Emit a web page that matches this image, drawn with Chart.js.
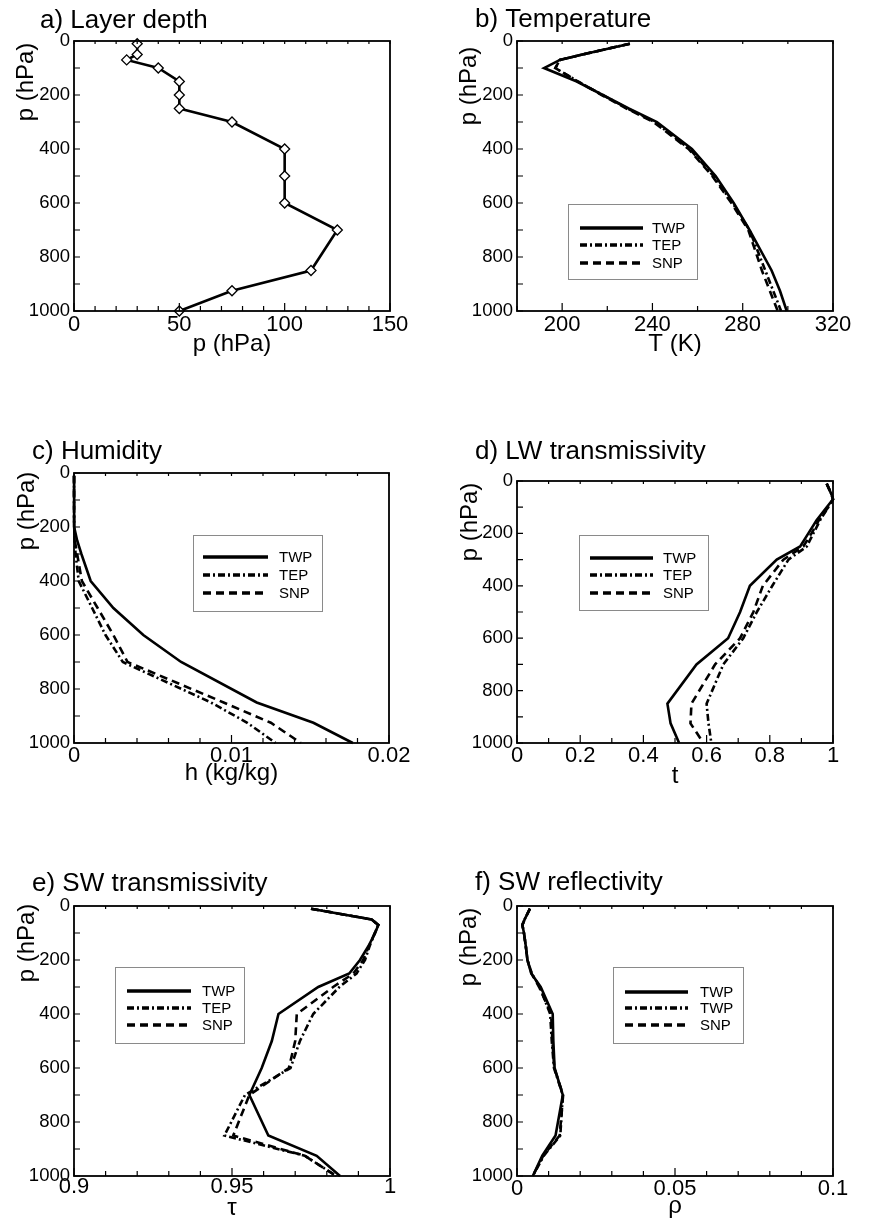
<!DOCTYPE html>
<html>
<head>
<meta charset="utf-8">
<script src="https://cdn.jsdelivr.net/npm/chart.js@4.4.1/dist/chart.umd.min.js"></script>
<style>
html,body{margin:0;padding:0;background:#fff;}
body{width:876px;height:1226px;position:relative;overflow:hidden;}
canvas{position:absolute;left:0;top:0;}
</style>
</head>
<body>
<canvas id="pa" width="876" height="1226"></canvas>
<canvas id="pb" width="876" height="1226"></canvas>
<canvas id="pc" width="876" height="1226"></canvas>
<canvas id="pd" width="876" height="1226"></canvas>
<canvas id="pe" width="876" height="1226"></canvas>
<canvas id="pf" width="876" height="1226"></canvas>
<script>
// ---------------- data ----------------
const levels = [10, 50, 70, 100, 150, 200, 250, 300, 400, 500, 600, 700, 850, 925, 1000];

const layerDepth = [30, 30, 25, 40, 50, 50, 50, 75, 100, 100, 100, 125, 112.5, 75, 50];

const tempTWP = [230, 209, 199, 192, 206.5, 218, 229.5, 242, 257.5, 268, 276, 283, 292.8, 296.5, 299.5];
const tempTEP = [230, 209, 199, 197, 207, 218, 229, 241, 256.5, 267, 275.5, 283, 290, 293.5, 297];
const tempSNP = [230, 209, 199, 197, 207, 217.5, 228.5, 240.5, 256, 266.5, 275, 282.5, 288.5, 292, 295.5];

const humTWP = [0.000003, 0.000003, 0.000003, 0.000004, 0.000008, 0.00003, 0.0002, 0.00047, 0.00106, 0.0025, 0.0044, 0.0068, 0.0116, 0.0152, 0.0177];
const humTEP = [0.000002, 0.000002, 0.000002, 0.000003, 0.000005, 0.00001, 0.00004, 0.0001, 0.0003, 0.00115, 0.002, 0.0031, 0.0087, 0.011, 0.0128];
const humSNP = [0.000002, 0.000002, 0.000002, 0.000003, 0.000005, 0.00001, 0.00005, 0.0002, 0.0005, 0.0015, 0.0025, 0.0034, 0.0095, 0.0125, 0.0144];

const lwTWP = [0.98, 0.995, 1.0, 0.98, 0.948, 0.922, 0.896, 0.822, 0.737, 0.706, 0.668, 0.568, 0.476, 0.486, 0.513];
const lwTEP = [0.98, 0.995, 1.0, 0.985, 0.959, 0.938, 0.917, 0.859, 0.808, 0.759, 0.716, 0.653, 0.60, 0.606, 0.615];
const lwSNP = [0.98, 0.995, 1.0, 0.985, 0.955, 0.932, 0.906, 0.843, 0.778, 0.748, 0.706, 0.627, 0.552, 0.549, 0.59];

const swtTWP = [0.975, 0.9942, 0.9963, 0.9953, 0.9931, 0.9905, 0.9871, 0.9773, 0.9647, 0.9626, 0.9594, 0.9555, 0.9615, 0.9768, 0.9842];
const swtTEP = [0.975, 0.9942, 0.9963, 0.9952, 0.9935, 0.9921, 0.9894, 0.984, 0.9757, 0.9715, 0.9685, 0.9541, 0.9476, 0.973, 0.983];
const swtSNP = [0.975, 0.9942, 0.9963, 0.9952, 0.9933, 0.9915, 0.9884, 0.982, 0.9705, 0.97, 0.968, 0.9555, 0.9504, 0.973, 0.983];

const swrTWP = [0.0041, 0.0024, 0.0017, 0.0022, 0.0028, 0.0033, 0.0045, 0.0075, 0.0113, 0.0115, 0.0119, 0.0145, 0.0122, 0.0080, 0.0050];
const swrTEP = [0.0041, 0.0024, 0.0017, 0.0022, 0.0028, 0.0033, 0.0047, 0.0072, 0.0105, 0.0110, 0.0117, 0.0145, 0.0137, 0.0085, 0.0050];
const swrSNP = [0.0041, 0.0024, 0.0017, 0.0022, 0.0028, 0.0033, 0.0046, 0.0070, 0.0108, 0.0112, 0.0118, 0.0146, 0.0135, 0.0083, 0.0050];

const seriesNames = ['TWP', 'TEP', 'SNP'];
const seriesNamesF = ['TWP', 'TWP', 'SNP'];

// tick labels
const yTickLabels = ['0', '200', '400', '600', '800', '1000'];
const yMinorStep = 100;
const xLabelsA = ['0', '50', '100', '150'];
const xLabelsB = ['200', '240', '280', '320'];
const xLabelsC = ['0', '0.01', '0.02'];
const xLabelsD = ['0', '0.2', '0.4', '0.6', '0.8', '1'];
const xLabelsE = ['0.9', '0.95', '1'];
const xLabelsF = ['0', '0.05', '0.1'];

// ---------------- drawing ----------------
const FONT = '"Liberation Sans", Arial, Helvetica, sans-serif';
Chart.defaults.font.family = FONT;
Chart.defaults.color = '#000';

const styles = [
  {borderDash: []},
  {borderDash: [7, 3, 2, 3]},
  {borderDash: [8, 5]}
];

function pts(vals) { return vals.map((v, i) => ({x: v, y: levels[i]})); }

function stepValues(min, max, step) {
  const n = Math.round((max - min) / step);
  const out = [];
  for (let i = 0; i <= n; i++) out.push(+(min + i * step).toFixed(8));
  return out;
}

function labelLookup(labels) {
  const vals = labels.map(Number);
  return (v) => {
    const i = vals.findIndex(m => Math.abs(m - v) < 1e-9);
    return i >= 0 ? labels[i] : '';
  };
}

const decor = {
  id: 'decor',
  afterDraw(chart, args, o) {
    const {ctx, chartArea: a} = chart;
    const xs = chart.scales.x, ys = chart.scales.y;
    ctx.save();
    ctx.strokeStyle = '#000';
    ctx.lineWidth = 1.2;
    ctx.setLineDash([]);
    ctx.beginPath();
    xs.ticks.forEach(t => {
      const px = xs.getPixelForValue(t.value);
      const major = t.label !== '';
      ctx.moveTo(px, a.bottom); ctx.lineTo(px, a.bottom - (major ? 8 : 5));
      ctx.moveTo(px, a.top); ctx.lineTo(px, a.top + 3);
    });
    ys.ticks.forEach(t => {
      const py = ys.getPixelForValue(t.value);
      ctx.moveTo(a.left, py); ctx.lineTo(a.left + 6, py);
    });
    ctx.stroke();
    ctx.lineWidth = 1.8;
    ctx.strokeRect(a.left, a.top, a.right - a.left, a.bottom - a.top);

    ctx.fillStyle = '#000';
    ctx.font = '26px ' + FONT;
    ctx.textAlign = 'left';
    ctx.textBaseline = 'alphabetic';
    ctx.fillText(o.title, o.titleX, o.titleY);

    ctx.save();
    ctx.translate(o.yTitleX, o.yTitleY);
    ctx.rotate(-Math.PI / 2);
    ctx.font = '24px ' + FONT;
    ctx.textAlign = 'center';
    ctx.textBaseline = 'middle';
    ctx.fillText(o.yTitle, 0, 0);
    ctx.restore();

    if (o.legend) {
      const L = o.legend;
      ctx.strokeStyle = '#8a8a8a';
      ctx.lineWidth = 1;
      ctx.strokeRect(L.box[0] + 0.5, L.box[1] + 0.5, L.box[2] - L.box[0], L.box[3] - L.box[1]);
      chart.data.datasets.forEach((ds, i) => {
        const y = L.rows[i];
        ctx.strokeStyle = '#000';
        ctx.lineWidth = 3.5;
        ctx.setLineDash(ds.borderDash || []);
        ctx.beginPath(); ctx.moveTo(L.line[0], y); ctx.lineTo(L.line[1], y); ctx.stroke();
        ctx.setLineDash([]);
        ctx.fillStyle = '#000';
        ctx.font = '15px ' + FONT;
        ctx.textAlign = 'left';
        ctx.textBaseline = 'middle';
        ctx.fillText(ds.label, L.textX, y + 1);
      });
    }
    ctx.restore();
  }
};

const Y_AXIS_W = 70;

function makePanel(id, p) {
  const xTicks = stepValues(p.xMin, p.xMax, p.xStep);
  const yTicks = stepValues(0, 1000, yMinorStep);
  const xLab = labelLookup(p.xLabels);
  const yLab = labelLookup(yTickLabels);
  const xTitleSize = 24;
  const xh = p.xTitleBaseline + (0.6 - 0.3465) * xTitleSize - p.area.b;
  return new Chart(document.getElementById(id), {
    type: 'scatter',
    data: {datasets: p.datasets},
    options: {
      responsive: false,
      animation: false,
      events: [],
      layout: {padding: {left: p.area.l - Y_AXIS_W, top: p.area.t, right: 876 - p.area.r, bottom: 1226 - p.area.b - xh}},
      plugins: {
        legend: {display: false},
        tooltip: {enabled: false},
        decor: {title: p.title, titleX: p.titleX, titleY: p.titleY, yTitle: 'p (hPa)',
                yTitleX: p.yTitleX, yTitleY: p.yTitleY, legend: p.legend}
      },
      scales: {
        x: {
          type: 'linear', position: 'bottom', min: p.xMin, max: p.xMax,
          afterBuildTicks: s => { s.ticks = xTicks.map(v => ({value: v})); },
          afterFit: s => { s.height = xh; },
          ticks: {autoSkip: false, maxRotation: 0, minRotation: 0, padding: p.xPad,
                  font: {size: 22}, color: '#000', callback: v => xLab(v)},
          grid: {display: false, drawTicks: false},
          border: {display: false},
          title: {display: true, text: p.xTitle, font: {size: xTitleSize}, color: '#000', padding: 0}
        },
        y: {
          type: 'linear', position: 'left', reverse: true, min: 0, max: 1000,
          afterBuildTicks: s => { s.ticks = yTicks.map(v => ({value: v})); },
          afterFit: s => { s.width = Y_AXIS_W; },
          ticks: {autoSkip: false, padding: 4, font: {size: 18.5}, color: '#000', callback: v => yLab(v)},
          grid: {display: false, drawTicks: false},
          border: {display: false},
          title: {display: false}
        }
      }
    },
    plugins: [decor]
  });
}

function lineSets(arrs, names) {
  return arrs.map((vals, i) => ({
    label: names[i],
    data: pts(vals),
    showLine: true,
    borderColor: '#000',
    backgroundColor: '#000',
    borderWidth: 2.6,
    borderDash: styles[i].borderDash,
    pointRadius: 0,
    fill: false,
    clip: false,
    tension: 0
  }));
}

makePanel('pa', {
  area: {l: 74, t: 41, r: 390, b: 311},
  xMin: 0, xMax: 150, xStep: 10, xLabels: xLabelsA, xPad: 1,
  xTitle: 'p (hPa)', xTitleBaseline: 353,
  title: 'a) Layer depth', titleX: 40, titleY: 28,
  yTitleX: 26, yTitleY: 82,
  datasets: [{
    label: 'Layer depth', data: pts(layerDepth), showLine: true,
    borderColor: '#000', borderWidth: 2.6, clip: false,
    pointStyle: 'rectRot', pointRadius: 5, pointBorderWidth: 1.3,
    pointBackgroundColor: '#fff', pointBorderColor: '#000'
  }]
});

makePanel('pb', {
  area: {l: 517, t: 41, r: 833, b: 311},
  xMin: 180, xMax: 320, xStep: 20, xLabels: xLabelsB, xPad: 1,
  xTitle: 'T (K)', xTitleBaseline: 353,
  title: 'b) Temperature', titleX: 475, titleY: 27,
  yTitleX: 469, yTitleY: 86,
  legend: {box: [568, 204, 697, 279], line: [580, 643], textX: 652, rows: [228, 245, 263]},
  datasets: lineSets([tempTWP, tempTEP, tempSNP], seriesNames)
});

makePanel('pc', {
  area: {l: 74, t: 473, r: 389, b: 743},
  xMin: 0, xMax: 0.02, xStep: 0.002, xLabels: xLabelsC, xPad: 0,
  xTitle: 'h (kg/kg)', xTitleBaseline: 782,
  title: 'c) Humidity', titleX: 32, titleY: 459,
  yTitleX: 27, yTitleY: 511,
  legend: {box: [193, 535, 322, 611], line: [203, 268], textX: 279, rows: [557, 575, 593]},
  datasets: lineSets([humTWP, humTEP, humSNP], seriesNames)
});

makePanel('pd', {
  area: {l: 517, t: 481, r: 833, b: 743},
  xMin: 0, xMax: 1, xStep: 0.1, xLabels: xLabelsD, xPad: 0,
  xTitle: 't', xTitleBaseline: 785,
  title: 'd) LW transmissivity', titleX: 475, titleY: 459,
  yTitleX: 470, yTitleY: 522,
  legend: {box: [579, 535, 708, 610], line: [590, 653], textX: 663, rows: [558, 575, 593]},
  datasets: lineSets([lwTWP, lwTEP, lwSNP], seriesNames)
});

makePanel('pe', {
  area: {l: 74, t: 906, r: 390, b: 1176},
  xMin: 0.9, xMax: 1, xStep: 0.01, xLabels: xLabelsE, xPad: -2,
  xTitle: 'τ', xTitleBaseline: 1217,
  title: 'e) SW transmissivity', titleX: 32, titleY: 891,
  yTitleX: 27, yTitleY: 943,
  legend: {box: [115, 967, 244, 1043], line: [127, 191], textX: 202, rows: [991, 1008, 1025]},
  datasets: lineSets([swtTWP, swtTEP, swtSNP], seriesNames)
});

makePanel('pf', {
  area: {l: 517, t: 906, r: 833, b: 1176},
  xMin: 0, xMax: 0.1, xStep: 0.01, xLabels: xLabelsF, xPad: 0,
  xTitle: 'ρ', xTitleBaseline: 1215,
  title: 'f) SW reflectivity', titleX: 475, titleY: 890,
  yTitleX: 469, yTitleY: 947,
  legend: {box: [613, 967, 743, 1043], line: [625, 688], textX: 700, rows: [992, 1008, 1025]},
  datasets: lineSets([swrTWP, swrTEP, swrSNP], seriesNamesF)
});
</script>
</body>
</html>
